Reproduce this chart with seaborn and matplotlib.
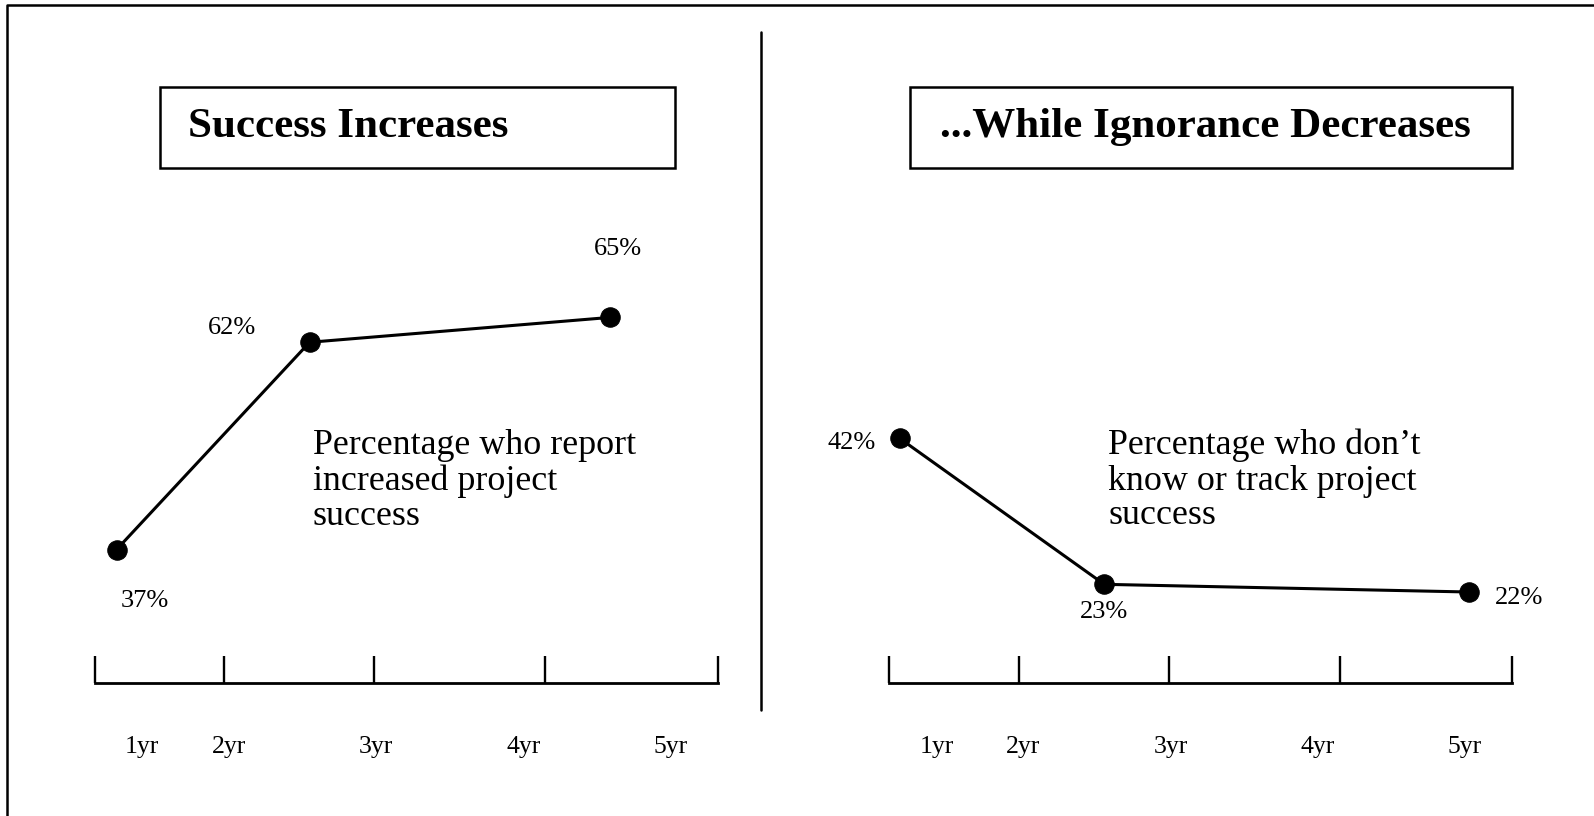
import matplotlib
matplotlib.use("Agg")
import matplotlib.pyplot as plt
from matplotlib.patches import Rectangle
from matplotlib.lines import Line2D
import pandas as pd
import seaborn as sns

# Données
years_success = [1.24, 2.55, 4.59]
pct_success = [37, 62, 65]
years_unknown = [1.16, 2.55, 5.03]
pct_unknown = [42, 23, 22]
tick_labels = ["1yr", "2yr", "3yr", "4yr", "5yr"]
label_years = [1.41, 2, 3, 4, 5]
tick_years = [1.09, 1.97, 2.99, 4.15, 5.32]

titles = ["Success Increases", "...While Ignorance Decreases"]
notes = ["Percentage who report\nincreased project\nsuccess",
         "Percentage who don\u2019t\nknow or track project\nsuccess"]

sns.set_style("white")
plt.rcParams['font.family'] = ['Liberation Serif', 'DejaVu Serif']
plt.rcParams['text.color'] = 'black'
plt.rcParams['xtick.color'] = 'black'
plt.rcParams['xtick.labelcolor'] = 'black'

W, H = 1594, 816
fig = plt.figure(figsize=(W / 100, H / 100), dpi=100)


def fx(px):
    return px / W


def fy(py):
    return 1 - py / H


# cadre extérieur (haut + gauche) et séparateur
fig.add_artist(Line2D([fx(7.5), fx(7.5), 1.0], [0.0, fy(5), fy(5)],
                      transform=fig.transFigure, color='black', lw=1.8))
fig.add_artist(Line2D([fx(761), fx(761)], [fy(32), fy(710)],
                      transform=fig.transFigure, color='black', lw=1.8))

panels = [
    dict(x=years_success, y=pct_success, left=94.5, right=717.7, ylim=(20.9, 78.8),
         box=(159.6, 675.0), title_x=188, note_x=313,
         offsets=[(28, -51), (-78, 14), (8, 68)]),
    dict(x=years_unknown, y=pct_unknown, left=889.5, right=1511.7, ylim=(10.15, 72.66),
         box=(909.8, 1511.7), title_x=940, note_x=1108,
         offsets=[(-48, -5), (0, -28), (50, -6)]),
]

for i, p in enumerate(panels):
    ax = fig.add_axes([fx(p['left']), fy(683), fx(p['right']) - fx(p['left']), fy(203) - fy(683)])
    df = pd.DataFrame({'year': p['x'], 'pct': p['y']})
    sns.lineplot(data=df, x='year', y='pct', ax=ax, color='black', lw=2.2,
                 marker='o', markersize=14, markeredgecolor='black', sort=False)
    ax.set_xlim(tick_years[0], tick_years[-1])
    ax.set_ylim(*p['ylim'])
    ax.set_xlabel('')
    ax.set_ylabel('')
    ax.set_yticks([])
    for s in ['top', 'left', 'right']:
        ax.spines[s].set_visible(False)
    ax.spines['bottom'].set_linewidth(2.0)
    ax.spines['bottom'].set_color('black')
    ax.set_xticks(tick_years)
    ax.set_xticklabels([])
    ax.set_xticks(label_years, minor=True)
    ax.set_xticklabels(tick_labels, minor=True)
    ax.tick_params(axis='x', which='major', direction='in', length=19.7, width=1.7,
                   color='black', bottom=True)
    ax.tick_params(axis='x', which='minor', length=0, pad=38, labelsize=18.5)
    ax.patch.set_alpha(0)

    for xv, yv, (dx, dy) in zip(p['x'], p['y'], p['offsets']):
        ax.annotate(f"{yv}%", (xv, yv), xytext=(dx, dy), textcoords='offset pixels',
                    ha='center', va='center', fontsize=19)

    # boîte de titre
    b0, b1 = p['box']
    fig.add_artist(Rectangle((fx(b0), fy(167.7)), fx(b1) - fx(b0), fy(87.4) - fy(167.7),
                             transform=fig.transFigure, fill=False, lw=1.8, ec='black'))
    fig.text(fx(p['title_x']), fy(127), titles[i], ha='left', va='center',
             fontsize=31, fontweight='bold')
    fig.text(fx(p['note_x']), fy(429), notes[i], ha='left', va='top',
             fontsize=25.8, linespacing=1.08)

fig.savefig("out.png", dpi=100, facecolor='white')
